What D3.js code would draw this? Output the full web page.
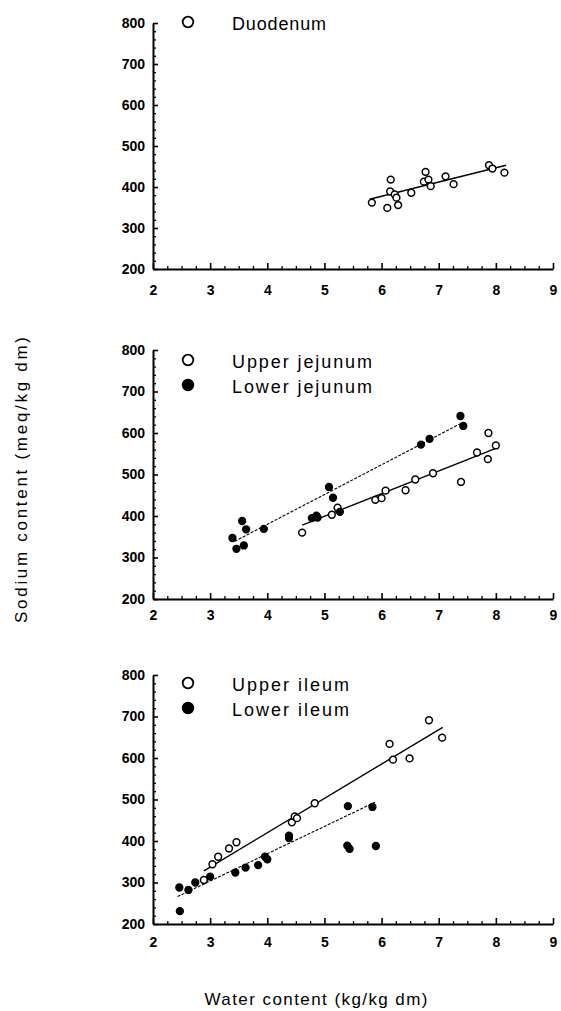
<!DOCTYPE html>
<html><head><meta charset="utf-8">
<script src="https://cdn.jsdelivr.net/npm/d3@7"></script>
<style>
html,body{margin:0;padding:0;background:#fff;}
svg{display:block;}
text{font-family:"Liberation Sans",Arial,Helvetica,sans-serif;fill:#000;}
</style></head>
<body>
<svg id="chart" width="561" height="1011"></svg>
<script>
// ---------- data ----------
const xTicks = [2, 3, 4, 5, 6, 7, 8, 9];
const yTicks = [200, 300, 400, 500, 600, 700, 800];

// Duodenum (open)
const duoX = [5.83, 6.10, 6.16, 6.15, 6.23, 6.26, 6.29, 6.52, 6.77, 6.74, 6.82, 6.86, 7.12, 7.26, 7.88, 7.94, 8.15];
const duoY = [362, 349, 418, 389, 382, 374, 356, 386, 437, 413, 418, 402, 426, 407, 453, 445, 435];
const duoFit = [[5.79, 370], [8.18, 453]];

// Upper jejunum (open)
const ujX = [4.61, 5.13, 5.23, 5.89, 6.00, 6.07, 6.42, 6.59, 6.90, 7.39, 7.67, 7.86, 7.87, 8.00];
const ujY = [360, 403, 420, 439, 443, 461, 462, 488, 503, 482, 553, 537, 600, 570];
const ujFit = [[4.61, 378], [8.02, 564]];

// Lower jejunum (filled)
const ljX = [3.39, 3.46, 3.59, 3.56, 3.63, 3.94, 4.78, 4.86, 4.88, 5.08, 5.15, 5.27, 6.69, 6.84, 7.38, 7.43];
const ljY = [347, 321, 329, 388, 368, 369, 395, 401, 396, 470, 444, 410, 572, 586, 641, 617];
const ljFit = [[3.43, 339], [7.43, 626]];

// Upper ileum (open)
const uiX = [2.89, 3.04, 3.14, 3.33, 3.46, 4.43, 4.48, 4.52, 4.83, 6.14, 6.20, 6.49, 6.83, 7.06];
const uiY = [306, 344, 362, 382, 397, 445, 459, 455, 491, 634, 596, 599, 691, 649];
const uiFit = [[2.89, 328], [7.07, 674]];

// Lower ileum (filled)
const liX = [2.46, 2.47, 2.62, 2.74, 3.00, 3.44, 3.62, 3.84, 3.96, 4.00, 4.38, 4.38, 5.41, 5.40, 5.44, 5.84, 5.90];
const liY = [288, 231, 282, 300, 314, 324, 336, 342, 362, 356, 413, 407, 484, 389, 381, 482, 388];
const liFit = [[2.43, 266], [5.91, 495]];

const seriesNames = ["Duodenum", "Upper jejunum", "Lower jejunum", "Upper ileum", "Lower ileum"];
const yTitle = "Sodium content (meq/kg dm)";
const xTitle = "Water content (kg/kg dm)";

// ---------- layout ----------
const svg = d3.select("#chart");
const left = 153, right = 553;
const panels = [
  {top: 23, bottom: 269, pad: 16, legY: 22,
   series: [{x: duoX, y: duoY, fit: duoFit, filled: false, name: seriesNames[0], tl: 94}]},
  {top: 350, bottom: 599, pad: 11, legY: 360,
   series: [{x: ujX, y: ujY, fit: ujFit, filled: false, name: seriesNames[1], tl: 140},
            {x: ljX, y: ljY, fit: ljFit, filled: true, name: seriesNames[2], tl: 140}]},
  {top: 675, bottom: 924, pad: 13, legY: 683,
   series: [{x: uiX, y: uiY, fit: uiFit, filled: false, name: seriesNames[3], tl: 117},
            {x: liX, y: liY, fit: liFit, filled: true, name: seriesNames[4], tl: 117}]}
];

panels.forEach(p => {
  const x = d3.scaleLinear().domain([2, 9]).range([left, right]);
  const y = d3.scaleLinear().domain([200, 800]).range([p.bottom, p.top]);
  const g = svg.append("g");

  // minor ticks
  const xMinor = d3.range(2, 9.001, 0.25).filter(v => Math.abs(v - Math.round(v)) > 1e-6);
  const yMinor = d3.range(200, 800.1, 20).filter(v => v % 100 !== 0);
  g.append("g").attr("transform", `translate(0,${p.bottom})`)
    .call(d3.axisBottom(x).tickValues(xMinor).tickSizeInner(-3).tickSizeOuter(0).tickFormat(""))
    .call(s => s.select(".domain").remove())
    .selectAll("line").attr("stroke", "#000").attr("stroke-width", 1.3);
  g.append("g").attr("transform", `translate(${left},0)`)
    .call(d3.axisLeft(y).tickValues(yMinor).tickSizeInner(-3).tickSizeOuter(0).tickFormat(""))
    .call(s => s.select(".domain").remove())
    .selectAll("line").attr("stroke", "#000").attr("stroke-width", 1.3);

  // major axes
  const xa = g.append("g").attr("transform", `translate(0,${p.bottom})`)
    .call(d3.axisBottom(x).tickValues(xTicks).tickSizeInner(-6).tickSizeOuter(0).tickPadding(p.pad).tickFormat(d3.format("d")));
  const ya = g.append("g").attr("transform", `translate(${left},0)`)
    .call(d3.axisLeft(y).tickValues(yTicks).tickSizeInner(-5).tickSizeOuter(0).tickPadding(8).tickFormat(d3.format("d")));
  [xa, ya].forEach(a => {
    a.select(".domain").attr("stroke", "#000").attr("stroke-width", 2);
    a.selectAll(".tick line").attr("stroke", "#000").attr("stroke-width", 1.6);
    a.selectAll(".tick text").attr("font-size", 14).attr("font-weight", "bold")
      .attr("font-family", "Liberation Sans, Arial, sans-serif").attr("fill", "#000");
  });

  p.series.forEach((s, i) => {
    // fit line
    g.append("line")
      .attr("x1", x(s.fit[0][0])).attr("y1", y(s.fit[0][1]))
      .attr("x2", x(s.fit[1][0])).attr("y2", y(s.fit[1][1]))
      .attr("stroke", "#000")
      .attr("stroke-width", s.filled ? 1.1 : 1.4)
      .attr("stroke-dasharray", s.filled ? "3,1.5" : null);
    // points
    g.append("g").selectAll("circle").data(s.x.map((v, k) => [v, s.y[k]])).join("circle")
      .attr("cx", d => x(d[0])).attr("cy", d => y(d[1]))
      .attr("r", 3.4)
      .attr("fill", s.filled ? "#000" : "#fff")
      .attr("stroke", "#000").attr("stroke-width", 1.5);
    // legend
    const ly = p.legY + i * 25;
    g.append("circle").attr("cx", 188).attr("cy", ly).attr("r", 5.3)
      .attr("fill", s.filled ? "#000" : "#fff").attr("stroke", "#000").attr("stroke-width", 1.8);
    g.append("text").attr("x", 232).attr("y", ly + 2)
      .attr("dominant-baseline", "central")
      .attr("font-size", 18)
      .attr("textLength", s.tl).attr("lengthAdjust", "spacing")
      .text(s.name);
  });
});

// axis titles
svg.append("text")
  .attr("transform", "translate(27,480) rotate(-90)")
  .attr("text-anchor", "middle")
  .attr("font-size", 17)
  .attr("textLength", 286).attr("lengthAdjust", "spacing")
  .text(yTitle);
svg.append("text")
  .attr("x", 316).attr("y", 1005)
  .attr("text-anchor", "middle")
  .attr("font-size", 17)
  .attr("textLength", 223).attr("lengthAdjust", "spacing")
  .text(xTitle);
</script>
</body></html>
